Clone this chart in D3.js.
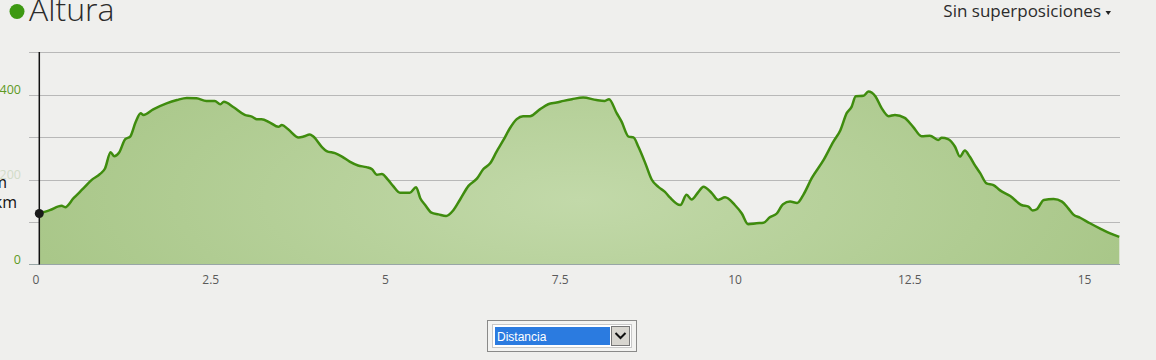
<!DOCTYPE html>
<html>
<head>
<meta charset="utf-8">
<title>Altura</title>
<script src="https://d3js.org/d3.v7.min.js"></script>
<style>
  body { margin: 0; background: #efefed; font-family: "Open Sans", sans-serif; }
  svg { display: block; }
</style>
</head>
<body>
<svg width="1156" height="360"></svg>
<script>
// distance (km) and elevation (m)
var distance = [0, 0.15, 0.32, 0.37, 0.49, 0.63, 0.75, 0.87, 0.94, 1.02, 1.07, 1.14, 1.23, 1.30, 1.38, 1.45, 1.49, 1.63, 1.82, 1.97,
  2.11, 2.25, 2.39, 2.51, 2.59, 2.64, 2.78, 2.94, 3.04, 3.11, 3.18, 3.30, 3.42, 3.47, 3.56, 3.71, 3.78, 3.87, 3.92, 4.04,
  4.11, 4.23, 4.33, 4.44, 4.56, 4.68, 4.76, 4.83, 4.90, 4.99, 5.06, 5.16, 5.30, 5.39, 5.45, 5.52, 5.61, 5.71, 5.82, 5.92,
  6.02, 6.14, 6.26, 6.35, 6.45, 6.54, 6.64, 6.73, 6.83, 6.92, 7.02, 7.16, 7.28, 7.40, 7.50, 7.62, 7.78, 7.97, 8.09, 8.15,
  8.26, 8.33, 8.43, 8.50, 8.57, 8.67, 8.76, 8.86, 8.95, 9.02, 9.17, 9.26, 9.33, 9.43, 9.50, 9.62, 9.71, 9.81, 9.95, 10.05,
  10.14, 10.26, 10.36, 10.45, 10.55, 10.64, 10.74, 10.84, 10.93, 11.05, 11.22, 11.36, 11.46, 11.55, 11.62, 11.68, 11.79, 11.86, 11.96, 12.05,
  12.15, 12.24, 12.38, 12.50, 12.62, 12.74, 12.86, 12.91, 13.00, 13.10, 13.17, 13.24, 13.31, 13.39, 13.46, 13.55, 13.65, 13.74, 13.89, 14.05,
  14.15, 14.21, 14.27, 14.37, 14.51, 14.63, 14.72, 14.79, 14.89, 15.03, 15.17, 15.32, 15.45];
var elevation = [120, 128, 138, 135, 156, 179, 199, 213, 226, 264, 255, 263, 295, 301, 336, 356, 352, 365, 379, 387,
  392, 391, 385, 385, 377, 383, 370, 352, 348, 342, 342, 334, 324, 328, 318, 299, 301, 306, 301, 277,
  267, 262, 254, 242, 233, 229, 224, 211, 213, 199, 185, 169, 169, 182, 156, 140, 122, 118, 114, 127,
  153, 185, 202, 224, 238, 265, 293, 320, 342, 349, 349, 365, 377, 381, 385, 389, 393, 387, 385, 389,
  356, 336, 301, 299, 277, 238, 200, 182, 171, 158, 140, 164, 153, 171, 183, 168, 152, 158, 140, 120,
  95, 97, 98, 111, 120, 142, 148, 145, 164, 203, 246, 289, 316, 356, 371, 396, 397, 407, 396, 368,
  349, 352, 345, 324, 302, 303, 293, 298, 295, 277, 254, 268, 254, 232, 215, 191, 187, 175, 161, 140,
  136, 127, 130, 152, 154, 148, 132, 118, 110, 97, 85, 73, 65];

var xTicks = [0, 2.5, 5, 7.5, 10, 12.5, 15];
var yGrid = [0, 100, 200, 300, 400, 500];
var yLabels = [0, 200, 400];

var svg = d3.select('svg');
var x = d3.scaleLinear().domain([0, 15.45]).range([39.3, 1119.3]);
var y = d3.scaleLinear().domain([0, 500]).range([264.5, 52]);

var data = distance.map(function(d, i) { return {d: d, e: elevation[i]}; });

var defs = svg.append('defs');
var grad = defs.append('radialGradient')
  .attr('id', 'fillGrad')
  .attr('gradientUnits', 'userSpaceOnUse')
  .attr('cx', 580).attr('cy', 200).attr('r', 560)
  .attr('gradientTransform', 'translate(580,200) scale(1,0.35) translate(-580,-200)');
grad.append('stop').attr('offset', '0%').attr('stop-color', '#c2d9a9');
grad.append('stop').attr('offset', '100%').attr('stop-color', '#a9c789');

// title
svg.append('circle').attr('cx', 17).attr('cy', 11.5).attr('r', 7.5).attr('fill', '#3d9912');
svg.append('text').attr('x', 29).attr('y', 21)
  .attr('font-size', 32).attr('font-weight', 300).attr('fill', '#2b2b2b')
  .text('Altura');

svg.append('text').attr('x', 1101).attr('y', 16.5)
  .attr('text-anchor', 'end').attr('font-size', 17).attr('fill', '#2b2b2b')
  .text('Sin superposiciones');
svg.append('path').attr('d', 'M1105.5,11 L1111,11 L1108.25,15 Z').attr('fill', '#222');

// grid
svg.append('g').selectAll('line')
  .data(yGrid.slice(1))
  .enter().append('line')
  .attr('x1', 29).attr('x2', 1120)
  .attr('y1', function(d) { return Math.round(y(d)) + 0.5; })
  .attr('y2', function(d) { return Math.round(y(d)) + 0.5; })
  .attr('stroke', '#b8b8b8').attr('stroke-width', 1);

// area + line
var area = d3.area()
  .x(function(d) { return x(d.d); })
  .y0(y(0))
  .y1(function(d) { return y(d.e); })
  .curve(d3.curveMonotoneX);
var line = d3.line()
  .x(function(d) { return x(d.d); })
  .y(function(d) { return y(d.e); })
  .curve(d3.curveMonotoneX);

svg.append('path').datum(data).attr('d', area).attr('fill', 'url(#fillGrad)');
svg.append('path').datum(data).attr('d', line)
  .attr('fill', 'none').attr('stroke', '#3f8c0e').attr('stroke-width', 2.5)
  .attr('stroke-linejoin', 'round');

// baseline
svg.append('line').attr('x1', 29).attr('x2', 1120)
  .attr('y1', y(0)).attr('y2', y(0))
  .attr('stroke', '#98a6a6').attr('stroke-width', 1);

// y labels
svg.append('g').selectAll('text')
  .data(yLabels)
  .enter().append('text')
  .attr('x', 21)
  .attr('y', function(d) { return y(d) - 1; })
  .attr('text-anchor', 'end')
  .attr('font-size', 12.5)
  .attr('fill', function(d) { return d === 200 ? '#d2dcc8' : '#5e9a24'; })
  .text(function(d) { return d; });

// x axis labels
svg.append('g').selectAll('text')
  .data(xTicks)
  .enter().append('text')
  .attr('x', function(d) { return x(d) - 3.3; })
  .attr('y', 284)
  .attr('text-anchor', 'middle')
  .attr('font-size', 12)
  .attr('fill', '#5a5a5a')
  .text(function(d) { return d; });

// cursor line + marker
svg.append('line').attr('x1', x(0)).attr('x2', x(0))
  .attr('y1', y(500)).attr('y2', y(0))
  .attr('stroke', '#111').attr('stroke-width', 1.5);
svg.append('circle').attr('cx', x(distance[0])).attr('cy', y(elevation[0]))
  .attr('r', 4.5).attr('fill', '#1a1a1a');
svg.append('text').attr('x', 7).attr('y', 188).attr('text-anchor', 'end')
  .attr('font-size', 16).attr('fill', '#111').text(elevation[0] + ' m');
svg.append('text').attr('x', 17).attr('y', 208).attr('text-anchor', 'end')
  .attr('font-size', 16).attr('fill', '#111').text(distance[0] + ' km');

// dropdown
var dd = svg.append('g');
dd.append('rect').attr('x', 487.5).attr('y', 320.5).attr('width', 149).attr('height', 31)
  .attr('fill', '#f3f3f1').attr('stroke', '#222').attr('stroke-dasharray', '1,1');
dd.append('rect').attr('x', 492.5).attr('y', 324.5).attr('width', 139).attr('height', 23)
  .attr('fill', '#fff').attr('stroke', '#c8c8c8');
dd.append('rect').attr('x', 495).attr('y', 327).attr('width', 115).attr('height', 18)
  .attr('fill', '#2b7be0');
dd.append('text').attr('x', 497).attr('y', 341).attr('font-size', 12)
  .attr('fill', '#fff').attr('font-family', 'Liberation Sans, Arial, sans-serif').text('Distancia');
dd.append('rect').attr('x', 611.5).attr('y', 326.5).attr('width', 18).attr('height', 19)
  .attr('fill', '#d8d6d0').attr('stroke', '#777');
dd.append('path').attr('d', 'M615.5,333 L620.5,338 L625.5,333')
  .attr('fill', 'none').attr('stroke', '#111').attr('stroke-width', 2);
</script>
</body>
</html>
